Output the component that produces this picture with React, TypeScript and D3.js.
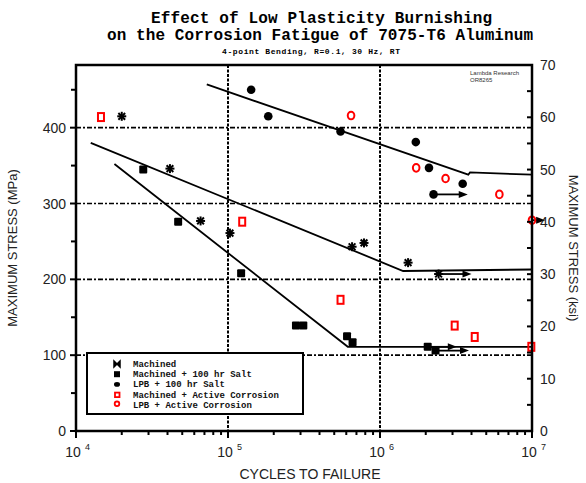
import React from "react";
import * as d3 from "d3";

// cycles to failure / max stress (MPa)
const machined = [
  [2.0e4, 415], [4.15e4, 346], [6.6e4, 277], [1.03e5, 261],
  [6.55e5, 243], [7.85e5, 248], [1.53e6, 222], [2.43e6, 207],
];
const machinedSalt = [
  [2.77e4, 345], [4.7e4, 276], [1.22e5, 208], [2.8e5, 139], [3.13e5, 139],
  [6.07e5, 125], [6.6e5, 117], [2.06e6, 111], [2.32e6, 106],
];
const lpbSalt = [
  [1.42e5, 450], [1.84e5, 415], [5.5e5, 395], [1.72e6, 381],
  [2.1e6, 347], [3.5e6, 326], [2.25e6, 312],
];
const machinedActive = [
  [1.46e4, 414], [1.24e5, 276], [5.5e5, 173], [3.1e6, 139], [4.2e6, 124], [9.9e6, 111],
];
const lpbActive = [
  [6.45e5, 416], [1.73e6, 347], [2.7e6, 333], [6.1e6, 312], [1.0e7, 278],
];

// trend lines
const machinedFit = [[1.25e4, 380], [1.42e6, 211], [1.0e7, 213]];
const saltFit = [[1.79e4, 352], [6.14e5, 111], [1.0e7, 111]];
const lpbFit = [[7.25e4, 457], [3.81e6, 338], [3.91e6, 341], [1.0e7, 338]];

// runouts: from, to, stress
const runouts = [
  [2.43e6, 4.0e6, 207], [2.25e6, 3.78e6, 312], [2.32e6, 3.85e6, 106],
  [2.08e6, 3.2e6, 111], [1.0e7, 1.22e7, 278],
];

const mpaTicks = [0, 100, 200, 300, 400];
const mpaMinor = [50, 150, 250, 350, 450];
const ksiTicks = [0, 10, 20, 30, 40, 50, 60, 70];
const ksiMinor = [5, 15, 25, 35, 45, 55, 65];
const decades = [4, 5, 6, 7];
const gridMpa = [100, 200, 300, 400];
const gridCycles = [1e5, 1e6];

const legendItems = [
  "Machined",
  "Machined + 100 hr Salt",
  "LPB + 100 hr Salt",
  "Machined + Active Corrosion",
  "LPB + Active Corrosion",
];

const KSI = 6.895;
const L = 76, R = 532, T = 65, B = 431;

const x = d3.scaleLog().domain([1e4, 1e7]).range([L, R]);
const y = d3.scaleLinear().domain([0, 70 * KSI]).range([B, T]);
const yk = d3.scaleLinear().domain([0, 70]).range([B, T]);
const line = d3.line<number[]>().x((d) => x(d[0])).y((d) => y(d[1]));

const minorCycles: number[] = [];
for (let e = 4; e < 7; e++) for (let m = 2; m <= 9; m++) minorCycles.push(m * 10 ** e);

const mono = "'Liberation Mono', 'DejaVu Sans Mono', monospace";
const sans = "'Liberation Sans', Arial, sans-serif";
const RED = "#ff0000";

const Star = ({ cx, cy, s = 4.5 }: { cx: number; cy: number; s?: number }) => {
  const d = s * 0.75;
  return (
    <g stroke="#000" strokeWidth={2}>
      <line x1={cx - s} y1={cy} x2={cx + s} y2={cy} />
      <line x1={cx} y1={cy - s} x2={cx} y2={cy + s} />
      <line x1={cx - d} y1={cy - d} x2={cx + d} y2={cy + d} />
      <line x1={cx - d} y1={cy + d} x2={cx + d} y2={cy - d} />
    </g>
  );
};

export default function App() {
  return (
    <svg width={586} height={483} style={{ position: "absolute", left: 0, top: 0, background: "#fff" }}>
      <rect width={586} height={483} fill="#fff" />
      {/* titles */}
      <text x={151} y={23} fontFamily={mono} fontWeight="bold" fontSize={16} textLength={341} lengthAdjust="spacing">
        Effect of Low Plasticity Burnishing
      </text>
      <text x={107} y={40} fontFamily={mono} fontWeight="bold" fontSize={16} textLength={426} lengthAdjust="spacing">
        on the Corrosion Fatigue of 7075-T6 Aluminum
      </text>
      <text x={222} y={54} fontFamily={mono} fontWeight="bold" fontSize={8} textLength={178} lengthAdjust="spacing">
        4-point Bending, R=0.1, 30 Hz, RT
      </text>

      {/* grid */}
      {gridMpa.map((v) => (
        <line key={"h" + v} x1={L} x2={R} y1={y(v)} y2={y(v)} stroke="#000" strokeWidth={1.6} strokeDasharray="5,2,2,2" />
      ))}
      {gridCycles.map((v) => (
        <line key={"v" + v} x1={x(v)} x2={x(v)} y1={T} y2={B} stroke="#000" strokeWidth={2} strokeDasharray="3,1.5" />
      ))}

      {/* trend lines */}
      {[machinedFit, saltFit, lpbFit].map((f, i) => (
        <path key={"f" + i} d={line(f) || ""} fill="none" stroke="#000" strokeWidth={1.8} />
      ))}

      {/* runout arrows */}
      {runouts.map(([a, b, s], i) => {
        const x0 = x(a), x1 = x(b), yy = y(s);
        return (
          <g key={"r" + i}>
            <line x1={x0} x2={x1 - 6} y1={yy} y2={yy} stroke="#000" strokeWidth={1.8} />
            <path d={`M${x1},${yy} L${x1 - 9},${yy - 3.5} L${x1 - 9},${yy + 3.5} Z`} fill="#000" />
          </g>
        );
      })}

      {/* data */}
      {machined.map(([n, s], i) => <Star key={"m" + i} cx={x(n)} cy={y(s)} />)}
      {machinedSalt.map(([n, s], i) => (
        <rect key={"ms" + i} x={x(n) - 4} y={y(s) - 4} width={8} height={8} rx={1} fill="#000" />
      ))}
      {lpbSalt.map(([n, s], i) => <circle key={"ls" + i} cx={x(n)} cy={y(s)} r={4.3} fill="#000" />)}
      {machinedActive.map(([n, s], i) => (
        <rect key={"ma" + i} x={x(n) - 3} y={y(s) - 4} width={6} height={8} fill="none" stroke={RED} strokeWidth={2} />
      ))}
      {lpbActive.map(([n, s], i) => (
        <ellipse key={"la" + i} cx={x(n)} cy={y(s)} rx={3.3} ry={3.8} fill="none" stroke={RED} strokeWidth={2} />
      ))}

      {/* frame */}
      <rect x={L} y={T} width={R - L} height={B - T} fill="none" stroke="#000" strokeWidth={2.5} />

      {/* left axis */}
      {mpaTicks.map((v) => (
        <g key={"lt" + v}>
          <line x1={L - 6} x2={L} y1={y(v)} y2={y(v)} stroke="#000" strokeWidth={2} />
          <text x={L - 10} y={y(v) + 5} textAnchor="end" fontFamily={sans} fontSize={14} fill="#222">{v}</text>
        </g>
      ))}
      {mpaMinor.map((v) => (
        <line key={"lm" + v} x1={L - 5} x2={L} y1={y(v)} y2={y(v)} stroke="#000" strokeWidth={2} />
      ))}

      {/* right axis */}
      {ksiTicks.map((v) => (
        <g key={"rt" + v}>
          <line x1={R - 5} x2={R} y1={yk(v)} y2={yk(v)} stroke="#000" strokeWidth={2} />
          <text x={R + 8} y={yk(v) + 5} fontFamily={sans} fontSize={14} fill="#222">{v}</text>
        </g>
      ))}
      {ksiMinor.map((v) => (
        <line key={"rm" + v} x1={R - 5} x2={R} y1={yk(v)} y2={yk(v)} stroke="#000" strokeWidth={2} />
      ))}

      {/* bottom axis */}
      {minorCycles.map((v) => (
        <line key={"bm" + v} x1={x(v)} x2={x(v)} y1={B} y2={B + 4} stroke="#000" strokeWidth={2} />
      ))}
      {decades.map((e) => (
        <g key={"bd" + e}>
          <line x1={x(10 ** e)} x2={x(10 ** e)} y1={B} y2={B + 7} stroke="#000" strokeWidth={2} />
          <text x={x(10 ** e) - 3} y={457} textAnchor="middle" fontFamily={sans} fontSize={14} fill="#222">10</text>
          <text x={x(10 ** e) + 9} y={450} fontFamily={sans} fontSize={9} fill="#222">{e}</text>
        </g>
      ))}

      {/* axis titles */}
      <text x={310} y={479} textAnchor="middle" fontFamily={sans} fontSize={14} fill="#222">CYCLES TO FAILURE</text>
      <text transform={`translate(17,${(T + B) / 2}) rotate(-90)`} textAnchor="middle" fontFamily={sans} fontSize={13} fill="#222">
        MAXIMUM STRESS (MPa)
      </text>
      <text transform={`translate(569,${(T + B) / 2}) rotate(90)`} textAnchor="middle" fontFamily={sans} fontSize={13} fill="#222">
        MAXIMUM STRESS (ksi)
      </text>

      <text x={470} y={75} fontFamily={sans} fontSize={6} fill="#333">Lambda Research</text>
      <text x={470} y={82} fontFamily={sans} fontSize={6} fill="#333">OR8265</text>

      {/* legend */}
      <rect x={87} y={353} width={216} height={61} fill="#fff" stroke="#000" strokeWidth={2} />
      {legendItems.map((t, i) => {
        const cy = 364 + i * 10.2;
        const cx = 117;
        return (
          <g key={"lg" + i}>
            {i === 0 && (
              <path d={`M${cx - 3},${cy - 3} L${cx + 3},${cy + 3} L${cx + 3},${cy - 3} L${cx - 3},${cy + 3} Z`} fill="#000" stroke="#000" strokeWidth={1.5} />
            )}
            {i === 1 && <rect x={cx - 3} y={cy - 3} width={6} height={6} fill="#000" />}
            {i === 2 && <ellipse cx={cx} cy={cy} rx={3} ry={2.3} fill="#000" />}
            {i === 3 && <rect x={cx - 2} y={cy - 2} width={4.5} height={4.5} fill="none" stroke={RED} strokeWidth={1.8} />}
            {i === 4 && <circle cx={cx} cy={cy - 1} r={2.3} fill="none" stroke={RED} strokeWidth={1.8} />}
            <text x={133} y={cy + 3} fontFamily={mono} fontWeight="bold" fontSize={9} fill="#111">{t}</text>
          </g>
        );
      })}
    </svg>
  );
}
